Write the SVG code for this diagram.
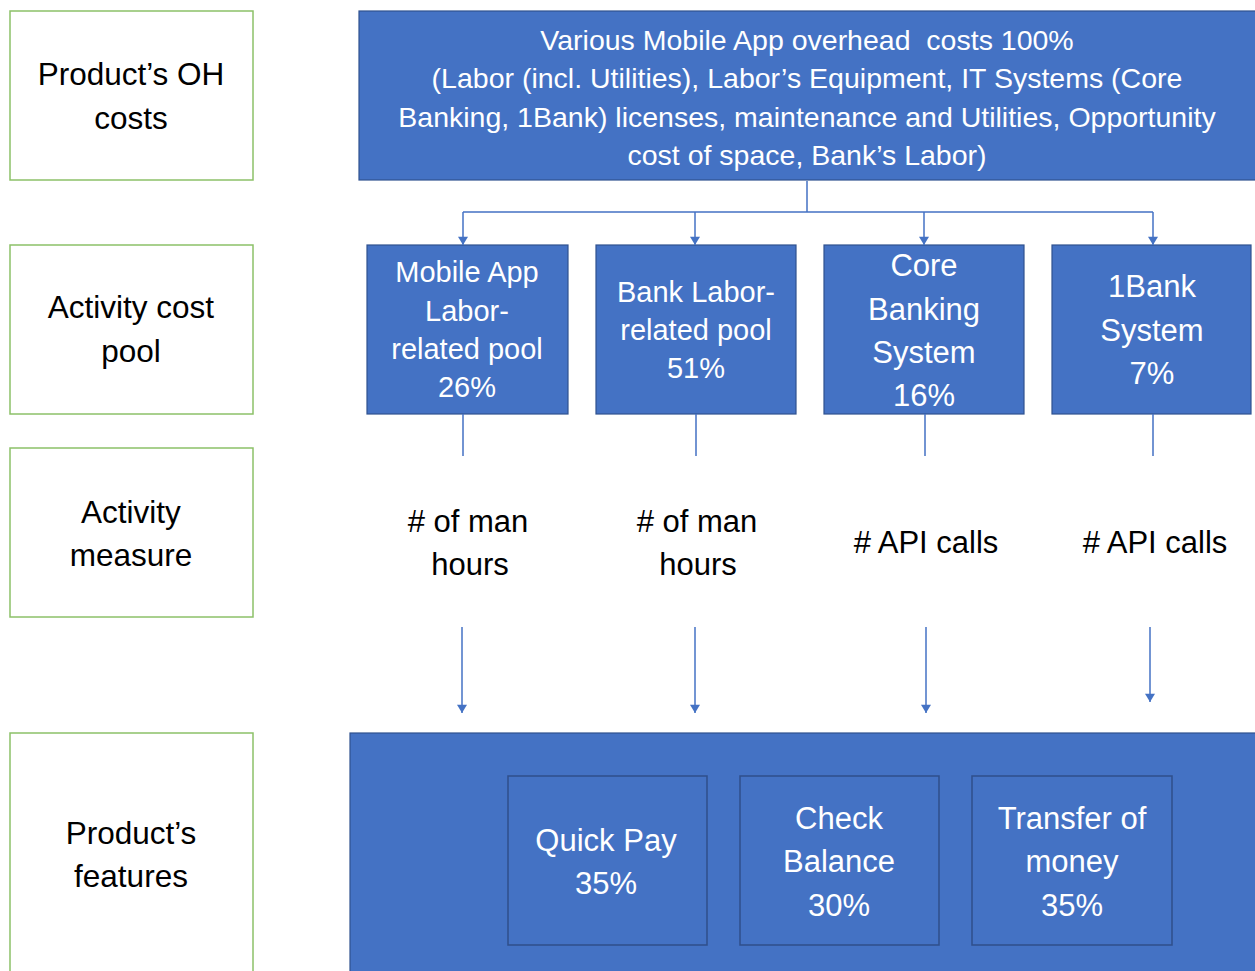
<svg xmlns="http://www.w3.org/2000/svg" width="1255" height="971" viewBox="0 0 1255 971">
<style>
.lab{fill:#fff;stroke:#8cc168;stroke-width:1.5}
.blue{fill:#4472c4;stroke:#2f528f;stroke-width:1.2}
.inner{fill:#4472c4;stroke:#2f4f8a;stroke-width:1.5}
text{font-family:"Liberation Sans",Arial,sans-serif;text-anchor:middle}
.lt{font-size:31.5px;fill:#000}
.wt{fill:#fff}
.mt{font-size:31px;fill:#000}
.con{fill:none;stroke:#4472c4;stroke-width:1.5}
</style>
<defs>
<marker id="ah" viewBox="0 0 10 12" refX="10" refY="6" markerWidth="12" markerHeight="10" markerUnits="userSpaceOnUse" orient="auto">
<path d="M0,0 L10,6 L0,12 z" fill="#4472c4"/>
</marker>
</defs>
<rect width="1255" height="971" fill="#fff"/>
<g id="label-oh"><rect class="lab" x="10" y="11" width="243" height="169"/>
<text class="lt" x="131" y="85">Product’s OH</text><text class="lt" x="131" y="129">costs</text></g>
<g id="label-pool"><rect class="lab" x="10" y="245" width="243" height="169"/>
<text class="lt" x="131" y="318">Activity cost</text><text class="lt" x="131" y="362">pool</text></g>
<g id="label-measure"><rect class="lab" x="10" y="448" width="243" height="169"/>
<text class="lt" x="131" y="523">Activity</text><text class="lt" x="131" y="566">measure</text></g>
<g id="label-features"><rect class="lab" x="10" y="733" width="243" height="260"/>
<text class="lt" x="131" y="844">Product’s</text><text class="lt" x="131" y="887">features</text></g>
<g id="overhead"><rect class="blue" x="359" y="11" width="900" height="169"/>
<g class="wt" font-size="28.5">
<text x="807" y="50" xml:space="preserve">Various Mobile App overhead  costs 100%</text>
<text x="807" y="88">(Labor (incl. Utilities), Labor’s Equipment, IT Systems (Core</text>
<text x="807" y="127">Banking, 1Bank) licenses, maintenance and Utilities, Opportunity</text>
<text x="807" y="165">cost of space, Bank’s Labor)</text></g></g>
<g id="pool-mobile"><rect class="blue" x="367" y="245" width="201" height="169"/>
<g class="wt" font-size="29"><text x="467" y="282">Mobile App</text><text x="467" y="321">Labor-</text><text x="467" y="359">related pool</text><text x="467" y="397">26%</text></g></g>
<g id="pool-bank"><rect class="blue" x="596" y="245" width="200" height="169"/>
<g class="wt" font-size="29"><text x="696" y="302">Bank Labor-</text><text x="696" y="340">related pool</text><text x="696" y="378">51%</text></g></g>
<g id="pool-core"><rect class="blue" x="824" y="245" width="200" height="169"/>
<g class="wt" font-size="31"><text x="924" y="276">Core</text><text x="924" y="320">Banking</text><text x="924" y="363">System</text><text x="924" y="406">16%</text></g></g>
<g id="pool-1bank"><rect class="blue" x="1052" y="245" width="199" height="169"/>
<g class="wt" font-size="31"><text x="1152" y="297">1Bank</text><text x="1152" y="341">System</text><text x="1152" y="384">7%</text></g></g>
<g id="measure-1"><text class="mt" x="468" y="532"># of man</text><text class="mt" x="470" y="575">hours</text></g>
<g id="measure-2"><text class="mt" x="697" y="532"># of man</text><text class="mt" x="698" y="575">hours</text></g>
<g id="measure-3"><text class="mt" x="926" y="553"># API calls</text></g>
<g id="measure-4"><text class="mt" x="1155" y="553"># API calls</text></g>
<g id="features"><rect class="blue" x="350" y="733" width="920" height="260"/></g>
<g id="f-quickpay"><rect class="inner" x="508" y="776" width="199" height="169"/>
<g class="wt" font-size="31"><text x="606" y="851">Quick Pay</text><text x="606" y="894">35%</text></g></g>
<g id="f-balance"><rect class="inner" x="740" y="776" width="199" height="169"/>
<g class="wt" font-size="31"><text x="839" y="829">Check</text><text x="839" y="872">Balance</text><text x="839" y="916">30%</text></g></g>
<g id="f-transfer"><rect class="inner" x="972" y="776" width="200" height="169"/>
<g class="wt" font-size="31"><text x="1072" y="829">Transfer of</text><text x="1072" y="872">money</text><text x="1072" y="916">35%</text></g></g>
<g id="connectors">
<path class="con" d="M807,181 V212 M463,212 H1153"/>
<path class="con" d="M463,212 V245" marker-end="url(#ah)"/>
<path class="con" d="M695,212 V245" marker-end="url(#ah)"/>
<path class="con" d="M924,212 V245" marker-end="url(#ah)"/>
<path class="con" d="M1153,212 V245" marker-end="url(#ah)"/>
<path class="con" d="M463,414 V456 M696,414 V456 M925,414 V456 M1153,414 V456"/>
<path class="con" d="M462,627 V713" marker-end="url(#ah)"/>
<path class="con" d="M695,627 V713" marker-end="url(#ah)"/>
<path class="con" d="M926,627 V713" marker-end="url(#ah)"/>
<path class="con" d="M1150,627 V702" marker-end="url(#ah)"/>
</g>
</svg>
